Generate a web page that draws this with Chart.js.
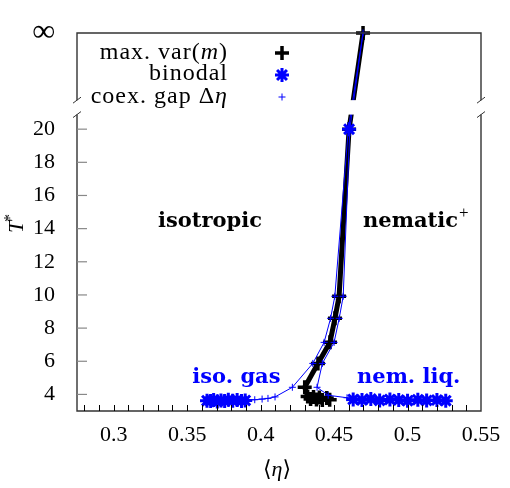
<!DOCTYPE html>
<html>
<head>
<meta charset="utf-8">
<script src="https://cdn.jsdelivr.net/npm/chart.js@4.4.1/dist/chart.umd.min.js"></script>
<style>
  html, body { margin: 0; padding: 0; background: #fff; }
  #wrap { width: 510px; height: 488px; }
</style>
</head>
<body>
<div id="wrap"><canvas id="phase"></canvas></div>
<script>
// value that stands for "infinity" at the top of the broken T axis
const INF = 25.8;
const BREAK_LO = 20.88, BREAK_HI = 21.75;

const xTicks = [0.3, 0.35, 0.4, 0.45, 0.5, 0.55];
const xTickLabels = ['0.3', '0.35', '0.4', '0.45', '0.5', '0.55'];
const yTicks = [4, 6, 8, 10, 12, 14, 16, 18, 20];

// max. var(m)
const maxVarEta = [0.447, 0.445, 0.442, 0.440, 0.438, 0.436, 0.434, 0.432, 0.430, 0.439, 0.4472, 0.4506, 0.4534, 0.4602, 0.4697];
const maxVarT   = [3.68, 3.78, 3.66, 3.82, 3.70, 3.84, 3.72, 3.88, 4.43, 5.87, 7.14, 8.59, 9.92, 20.0, INF];

// binodal (iso. gas side, nem. liq. side, and one high T point)
const binodalEta = [0.3635, 0.366, 0.368, 0.3705, 0.373, 0.3755, 0.378, 0.381, 0.384, 0.387, 0.3895,
                    0.463, 0.469, 0.475, 0.481, 0.488, 0.494, 0.500, 0.507, 0.513, 0.520, 0.526,
                    0.4602];
const binodalT   = [3.62, 3.60, 3.66, 3.58, 3.64, 3.60, 3.68, 3.62, 3.66, 3.60, 3.64,
                    3.70, 3.66, 3.72, 3.64, 3.70, 3.66, 3.62, 3.68, 3.64, 3.66, 3.62,
                    20.0];

// coexistence gap, left branch up then right branch down
const coexEta = [0.3905, 0.396, 0.401, 0.405, 0.4098, 0.4216, 0.4355, 0.4432, 0.4476, 0.4505, 0.4597, 0.4697,
                 0.4607, 0.4562, 0.4535, 0.4500, 0.4420, 0.4384, 0.446, 0.4588, 0.463];
const coexT   = [3.66, 3.68, 3.72, 3.76, 3.85, 4.43, 5.87, 7.14, 8.59, 9.92, 20.0, INF,
                 20.0, 9.92, 8.59, 7.14, 5.87, 4.43, 3.95, 3.80, 3.72];

const BLUE = '#0000ff';
const SERIF = "'Liberation Serif', 'DejaVu Serif', serif";
const BOLD = "'DejaVu Serif', serif";

const pts = (xs, ys) => xs.map((x, i) => ({ x: x, y: ys[i] }));

function drawMarker(ctx, style, x, y, r, w, color) {
  ctx.save();
  ctx.strokeStyle = color;
  ctx.lineWidth = w;
  ctx.beginPath();
  ctx.moveTo(x - r, y); ctx.lineTo(x + r, y);
  ctx.moveTo(x, y - r); ctx.lineTo(x, y + r);
  if (style === 'star') {
    const d = r * Math.SQRT1_2;
    ctx.moveTo(x - d, y - d); ctx.lineTo(x + d, y + d);
    ctx.moveTo(x - d, y + d); ctx.lineTo(x + d, y - d);
  }
  ctx.stroke();
  ctx.restore();
}

// draws pieces [text, italic?] as one run
function drawRun(ctx, parts, x, y, size, align) {
  const fonts = parts.map(p => (p[1] ? 'italic ' : '') + size + 'px ' + SERIF);
  let total = 0;
  const widths = parts.map((p, i) => { ctx.font = fonts[i]; const w = ctx.measureText(p[0]).width; total += w; return w; });
  let cx = align === 'right' ? x - total : align === 'center' ? x - total / 2 : x;
  ctx.textAlign = 'left';
  parts.forEach((p, i) => { ctx.font = fonts[i]; ctx.fillText(p[0], cx, y); cx += widths[i]; });
}

const decor = {
  id: 'decor',
  beforeDraw(chart) {
    const ctx = chart.ctx;
    ctx.save();
    ctx.fillStyle = '#fff';
    ctx.fillRect(0, 0, chart.width, chart.height);
    ctx.restore();
  },
  afterDatasetsDraw(chart) {
    const { ctx, chartArea: a, scales: { x, y } } = chart;
    const yLo = y.getPixelForValue(BREAK_LO), yHi = y.getPixelForValue(BREAK_HI);
    ctx.save();
    ctx.fillStyle = '#fff';
    ctx.fillRect(a.left - 6, yHi, a.right - a.left + 12, yLo - yHi);

    // frame with the axis break
    ctx.strokeStyle = '#333';
    ctx.lineWidth = 1.4;
    ctx.beginPath();
    ctx.moveTo(a.left, yHi); ctx.lineTo(a.left, a.top); ctx.lineTo(a.right, a.top); ctx.lineTo(a.right, yHi);
    ctx.moveTo(a.left, yLo); ctx.lineTo(a.left, a.bottom); ctx.lineTo(a.right, a.bottom); ctx.lineTo(a.right, yLo);
    ctx.stroke();
    ctx.lineWidth = 1;
    [a.left, a.right].forEach(px => [yHi, yLo].forEach(py => {
      ctx.beginPath(); ctx.moveTo(px - 4, py + 3); ctx.lineTo(px + 4, py - 3); ctx.stroke();
    }));

    // inward tick marks
    ctx.strokeStyle = '#000';
    ctx.lineWidth = 1;
    for (let k = 28; k <= 54; k++) {
      const px = Math.round(x.getPixelForValue(k / 100)) + 0.5;
      ctx.beginPath(); ctx.moveTo(px, a.bottom); ctx.lineTo(px, a.bottom - 6); ctx.stroke();
    }
    ctx.strokeStyle = '#888';
    ctx.lineWidth = 1.2;
    yTicks.forEach(v => {
      const py = y.getPixelForValue(v);
      ctx.beginPath(); ctx.moveTo(a.left, py); ctx.lineTo(a.left + 10, py); ctx.stroke();
    });
    ctx.restore();
  },
  afterDraw(chart) {
    const { ctx, scales: { x, y } } = chart;
    ctx.save();
    ctx.fillStyle = '#000';
    ctx.textBaseline = 'middle';

    // legend
    ctx.letterSpacing = '1px';
    drawRun(ctx, [['max. var(', false], ['m', true], [')', false]], 228, 53, 24, 'right');
    drawRun(ctx, [['binodal', false]], 228, 74, 24, 'right');
    drawRun(ctx, [['coex. gap \u0394', false], ['\u03b7', true]], 228, 97, 24, 'right');
    ctx.letterSpacing = '0px';
    drawMarker(ctx, 'cross', 282, 53, 7, 3.5, '#000');
    drawMarker(ctx, 'star', 282, 75, 7, 3, BLUE);
    drawMarker(ctx, 'cross', 282, 97, 3.5, 1, BLUE);

    // axis titles
    drawRun(ctx, [['\u27e8', false], ['\u03b7', true], ['\u27e9', false]], 277, 470, 22, 'center');
    ctx.save();
    ctx.translate(17, 224);
    ctx.rotate(-Math.PI / 2);
    ctx.font = 'italic 22px ' + SERIF;
    ctx.textAlign = 'center';
    ctx.fillText('T', -3, 0);
    ctx.font = '16px ' + SERIF;
    ctx.fillText('*', 6, -6);
    ctx.restore();

    // region labels
    ctx.textBaseline = 'alphabetic';
    ctx.textAlign = 'left';
    ctx.font = 'bold 21px ' + BOLD;
    ctx.fillText('isotropic', x.getPixelForValue(0.3301), y.getPixelForValue(14.1));
    const nx = x.getPixelForValue(0.4697), ny = y.getPixelForValue(14.1);
    ctx.fillText('nematic', nx, ny);
    const nw = ctx.measureText('nematic').width;
    ctx.font = '17px ' + SERIF;
    ctx.fillText('+', nx + nw + 1, ny - 9);
    ctx.fillStyle = BLUE;
    ctx.font = 'bold 21px ' + BOLD;
    ctx.fillText('iso. gas', x.getPixelForValue(0.3535), y.getPixelForValue(4.67));
    ctx.fillText('nem. liq.', x.getPixelForValue(0.4656), y.getPixelForValue(4.67));
    ctx.restore();
  }
};

new Chart(document.getElementById('phase'), {
  type: 'scatter',
  data: {
    datasets: [
      {
        label: 'max. var(m)',
        data: pts(maxVarEta, maxVarT),
        showLine: true,
        borderColor: '#000',
        backgroundColor: '#000',
        borderWidth: 5,
        borderJoinStyle: 'round',
        pointStyle: 'cross',
        pointRadius: 7,
        pointBorderWidth: 3.5,
        pointBorderColor: '#000',
        order: 3,
        clip: false
      },
      {
        label: 'binodal',
        data: pts(binodalEta, binodalT),
        showLine: false,
        pointStyle: 'star',
        pointRadius: 7,
        pointBorderWidth: 3,
        pointBorderColor: BLUE,
        backgroundColor: BLUE,
        order: 2,
        clip: false
      },
      {
        label: 'coex. gap',
        data: pts(coexEta, coexT),
        showLine: true,
        borderColor: BLUE,
        backgroundColor: BLUE,
        borderWidth: 1,
        pointStyle: 'cross',
        pointRadius: 3.5,
        pointBorderWidth: 1,
        pointBorderColor: BLUE,
        order: 1,
        clip: false
      }
    ]
  },
  options: {
    responsive: true,
    maintainAspectRatio: false,
    animation: false,
    layout: { padding: { top: 33, right: 29, left: 0, bottom: 0 } },
    plugins: { legend: { display: false }, tooltip: { enabled: false } },
    scales: {
      x: {
        type: 'linear',
        min: 0.275,
        max: 0.55,
        border: { display: false },
        grid: { display: false, drawTicks: false },
        afterBuildTicks: s => { s.ticks = xTicks.map(v => ({ value: v })); },
        afterFit: s => { s.height = 77; s.paddingLeft = 0; s.paddingRight = 0; },
        ticks: {
          padding: 11,
          color: '#000',
          autoSkip: false,
          maxRotation: 0,
          font: { family: SERIF, size: 22 },
          callback: (v, i) => xTickLabels[i]
        }
      },
      y: {
        type: 'linear',
        min: 3,
        max: INF,
        border: { display: false },
        grid: { display: false, drawTicks: false },
        afterBuildTicks: s => { s.ticks = yTicks.concat([INF]).map(v => ({ value: v })); },
        afterFit: s => { s.width = 77; s.paddingTop = 0; s.paddingBottom = 0; },
        ticks: {
          padding: 22,
          color: '#000',
          autoSkip: false,
          font: c => ({ family: SERIF, size: c.tick && c.tick.value === INF ? 32 : 22 }),
          callback: v => (v === INF ? '\u221e' : String(v))
        }
      }
    }
  },
  plugins: [decor]
});
</script>
</body>
</html>
